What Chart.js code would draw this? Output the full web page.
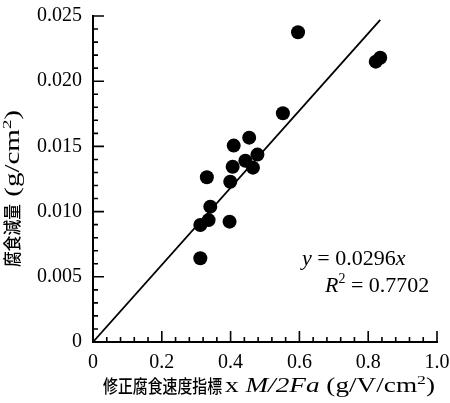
<!DOCTYPE html>
<html><head><meta charset="utf-8">
<script src="https://cdn.jsdelivr.net/npm/chart.js@4/dist/chart.umd.min.js"></script>
<style>html,body{margin:0;padding:0;background:#fff}#wrap{width:450px;height:403px;position:relative}</style>
</head><body><div id="wrap"><canvas id="c"></canvas></div>
<script>
// ---- data ----
const xValues = [0.596, 0.822, 0.835, 0.552, 0.454, 0.409, 0.478, 0.443, 0.465, 0.406, 0.399, 0.331, 0.341, 0.336, 0.312, 0.397, 0.312];
const yValues = [0.02375, 0.0215, 0.0218, 0.01754, 0.01567, 0.01506, 0.01437, 0.0139, 0.01337, 0.01344, 0.01229, 0.01263, 0.01038, 0.00935, 0.00897, 0.00923, 0.00642];
const fitX = [0, 0.835];
const fitY = [0, 0.0247];
const xTickLabels = ['0', '0.2', '0.4', '0.6', '0.8', '1.0'];
const yTickLabels = ['0', '0.005', '0.010', '0.015', '0.020', '0.025'];
const xTitleCJK = '修正腐食速度指標';
const yTitleCJK = '腐食減量';
const eqLine1 = ['y', ' = 0.0296', 'x'];
const eqLine2 = ['R', '2', ' = 0.7702'];

const SERIF = '"Liberation Serif", "Times New Roman", serif';
const CJK = '"Noto Sans CJK JP", "Noto Sans CJK SC", sans-serif';

function drawSegs(ctx, segs, x, y, targetWidth) {
  ctx.save();
  let total = 0;
  segs.forEach(s => { ctx.font = s.font; s.w = ctx.measureText(s.text).width; total += s.w; });
  const sx = targetWidth ? targetWidth / total : 1;
  ctx.translate(x, y);
  ctx.scale(sx, 1);
  let cx = 0;
  segs.forEach(s => {
    ctx.font = s.font;
    ctx.fillText(s.text, cx, s.dy || 0);
    cx += s.w;
  });
  ctx.restore();
}

const decor = {
  id: 'decor',
  afterDraw(chart) {
    const ctx = chart.ctx;
    const xs = chart.scales.x, ys = chart.scales.y;
    const a = chart.chartArea;
    ctx.save();
    ctx.strokeStyle = '#000';
    ctx.fillStyle = '#000';
    // axis lines
    ctx.lineWidth = 2;
    ctx.beginPath();
    ctx.moveTo(a.left, ys.getPixelForValue(0.025) - 1);
    ctx.lineTo(a.left, a.bottom);
    ctx.lineTo(xs.getPixelForValue(1.0) + 1, a.bottom);
    ctx.stroke();
    // inward ticks
    ctx.lineWidth = 1.6;
    ctx.beginPath();
    for (let i = 0; i <= 25; i++) {
      const py = ys.getPixelForValue(i * 0.001);
      const len = i % 5 === 0 ? 11 : 5;
      ctx.moveTo(a.left, py); ctx.lineTo(a.left + len, py);
      const px = xs.getPixelForValue(i * 0.04);
      ctx.moveTo(px, a.bottom); ctx.lineTo(px, a.bottom - len);
    }
    ctx.stroke();
    ctx.textBaseline = 'alphabetic';
    ctx.textAlign = 'left';
    // equation text
    drawSegs(ctx, [
      {text: eqLine1[0], font: 'italic 22px ' + SERIF},
      {text: eqLine1[1], font: '22px ' + SERIF},
      {text: eqLine1[2], font: 'italic 22px ' + SERIF}
    ], 302, 265);
    drawSegs(ctx, [
      {text: eqLine2[0], font: 'italic 22px ' + SERIF},
      {text: eqLine2[1], font: '14px ' + SERIF, dy: -9},
      {text: eqLine2[2], font: '22px ' + SERIF}
    ], 325, 292);
    // x axis title
    drawSegs(ctx, [{text: xTitleCJK, font: '500 18px ' + CJK}], 103, 393, 119);
    drawSegs(ctx, [
      {text: 'x ', font: '20px ' + SERIF},
      {text: 'M/2Fa', font: 'italic 20px ' + SERIF},
      {text: ' (g/V/cm', font: '20px ' + SERIF},
      {text: '2', font: '13px ' + SERIF, dy: -8},
      {text: ')', font: '20px ' + SERIF}
    ], 225, 392, 210);
    // y axis title
    ctx.save();
    ctx.translate(19, 188);
    ctx.rotate(-Math.PI / 2);
    drawSegs(ctx, [{text: yTitleCJK, font: '500 18px ' + CJK}], -79, 0, 63);
    drawSegs(ctx, [
      {text: ' (g/cm', font: '20px ' + SERIF},
      {text: '2', font: '13px ' + SERIF, dy: -8},
      {text: ')', font: '20px ' + SERIF}
    ], -16, 0, 94);
    ctx.restore();
    ctx.restore();
  }
};

const points = xValues.map((v, i) => ({x: v, y: yValues[i]}));
const fitLine = fitX.map((v, i) => ({x: v, y: fitY[i]}));

function zeroPad(s) { s.paddingTop = 0; s.paddingBottom = 0; s.paddingLeft = 0; s.paddingRight = 0; }

new Chart(document.getElementById('c'), {
  type: 'scatter',
  data: {
    datasets: [
      {data: points, pointRadius: 7, pointBackgroundColor: '#000', pointBorderWidth: 0, borderColor: '#000', showLine: false},
      {data: fitLine, showLine: true, pointRadius: 0, borderColor: '#000', borderWidth: 1.8, fill: false}
    ]
  },
  options: {
    responsive: true,
    maintainAspectRatio: false,
    animation: false,
    events: [],
    layout: {padding: {left: 0, right: 13, top: 16, bottom: 0}},
    plugins: {legend: {display: false}, tooltip: {enabled: false}},
    scales: {
      x: {
        type: 'linear', min: 0, max: 1,
        grid: {display: false, drawTicks: false},
        border: {display: false},
        ticks: {
          stepSize: 0.2, autoSkip: false, maxRotation: 0, padding: 9,
          color: '#000', font: {family: SERIF, size: 20},
          callback: v => xTickLabels[Math.round(v / 0.2)]
        },
        afterFit: s => { s.height = 61; zeroPad(s); }
      },
      y: {
        type: 'linear', min: 0, max: 0.025,
        grid: {display: false, drawTicks: false},
        border: {display: false},
        ticks: {
          stepSize: 0.005, autoSkip: false, padding: 11,
          color: '#000', font: {family: SERIF, size: 20},
          callback: v => yTickLabels[Math.round(v / 0.005)]
        },
        afterFit: s => { s.width = 93; zeroPad(s); }
      }
    }
  },
  plugins: [decor]
});
</script>
</body></html>
